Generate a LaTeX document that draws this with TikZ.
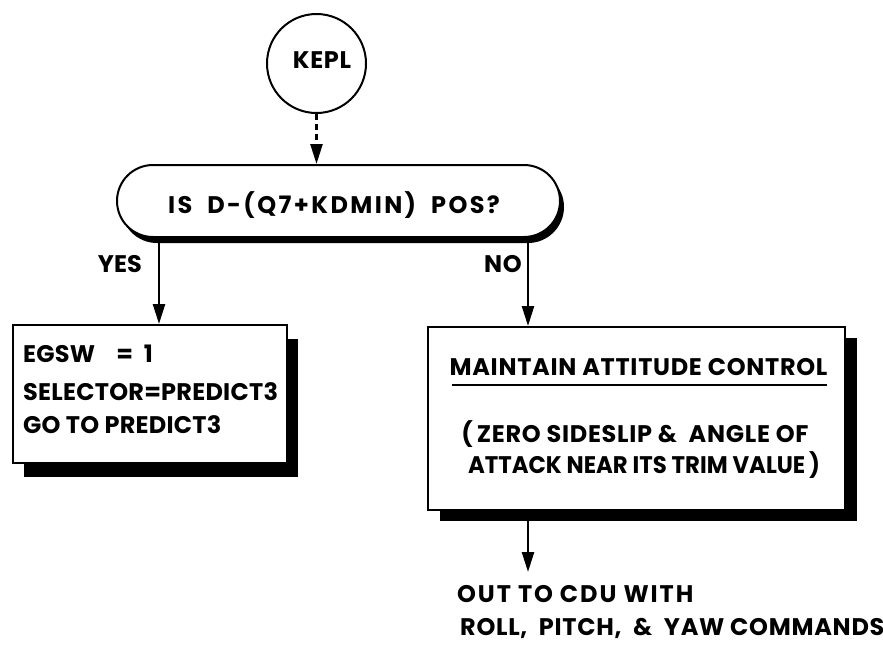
\documentclass[tikz,border=0pt]{standalone}
\usepackage{fontspec}
\setmainfont{Poppins}
\usetikzlibrary{arrows.meta,shapes.misc,shadows}
\begin{document}
\begin{tikzpicture}[x=1pt,y=-1pt,
  txt/.style={font=\bfseries\fontsize{24}{28}\selectfont\addfontfeatures{LetterSpace=#1}, inner sep=0pt},
  txt/.default=3,
  arr/.style={line width=2.4pt, -{Triangle[length=20pt,width=12pt]}},
  boxstyle/.style={draw, line width=2pt, fill=white, inner sep=0pt},
]
\useasboundingbox[fill=white] (0,0) rectangle (883,646);
% start connector
\node[circle, draw, line width=2pt, minimum size=99pt, inner sep=0pt] (kepl) at (316.5,63.5) {};
\node[txt, anchor=base] (keplt) at (322,68) {KEPL};
% decision terminator
\node[rounded rectangle, boxstyle, minimum width=443pt, minimum height=72pt,
      drop shadow={shadow xshift=4pt, shadow yshift=-6pt, fill=black, opacity=1}] (term) at (338.5,201) {};
\node[txt=10, anchor=base] (termt) at (334,213) {IS\ \ D-(Q7+KDMIN)\ \ POS?};
% branch labels
\node[txt=0, anchor=base east] (yes) at (142,272) {YES};
\node[txt, anchor=base east] (no) at (522,272) {NO};
% left box
\node[rectangle, boxstyle, minimum width=274pt, minimum height=138pt,
      drop shadow={shadow xshift=11pt, shadow yshift=-14pt, fill=black, opacity=1}] (lbox) at (150,394) {};
\node[txt=1, anchor=base west] (l1) at (23,362) {EGSW\ \ \ \ =\ \ 1};
\node[txt=1, anchor=base west] (l2) at (23,400) {SELECTOR=PREDICT3};
\node[txt=1, anchor=base west] (l3) at (23,433) {GO TO PREDICT3};
% right box
\node[rectangle, boxstyle, minimum width=417pt, minimum height=183pt,
      drop shadow={shadow xshift=12pt, shadow yshift=-11pt, fill=black, opacity=1}] (rbox) at (636.5,418.5) {};
\node[txt, anchor=base] (r1) at (638.5,375) {MAINTAIN ATTITUDE CONTROL};
\coordinate (ulA) at (452,385);
\coordinate (ulB) at (827,385);
\draw[line width=1.8pt] (ulA) -- (ulB);
\node[txt, anchor=base] (r2) at (635,442) {(\,ZERO SIDESLIP \&\ \ ANGLE OF};
\node[txt=0, anchor=base] (r3) at (644,473) {\scalebox{0.95}[1]{ATTACK NEAR ITS TRIM VALUE\,)}};
% output text
\node[txt=8, anchor=base west] (o1) at (457,602) {OUT\ TO\ CDU\ WITH};
\node[txt=3, anchor=base west] (o2) at (460,635) {ROLL,\ \ PITCH,\ \ \&\ \ YAW COMMANDS};
% connectors
\coordinate (yesx) at (159,0);
\coordinate (nox) at (528,0);
\coordinate (outend) at (528,572);
\draw[arr, dash pattern=on 6pt off 4pt] (kepl.south) -- (kepl.south |- term.north);
\draw[arr] (term.south -| yesx) -- (lbox.north -| yesx);
\draw[arr] (term.south -| nox) -- (rbox.north -| nox);
\draw[arr] (rbox.south -| nox) -- (outend);
\end{tikzpicture}
\end{document}
